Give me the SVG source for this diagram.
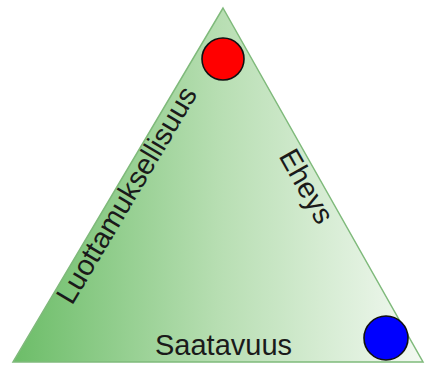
<svg xmlns="http://www.w3.org/2000/svg" width="425" height="365" viewBox="0 0 425 365">
<style>
.lbl{font-family:"Liberation Sans",Arial,sans-serif;font-size:29px;fill:#1a1a1a;text-anchor:middle}
.dot{stroke:#111;stroke-width:1.6}
</style>
<defs>
<linearGradient id="g" x1="13" y1="0" x2="423" y2="0" gradientUnits="userSpaceOnUse">
<stop offset="0" stop-color="#6cbd68"/>
<stop offset="0.5" stop-color="#b7deb2"/>
<stop offset="1" stop-color="#f3f9f2"/>
</linearGradient>
</defs>
<g id="triangle">
<polygon points="223,8 423,362 13,362" fill="url(#g)" stroke="#7fba7b" stroke-width="1.5"/>
</g>
<g id="luottamuksellisuus">
<text class="lbl" transform="translate(135,200) rotate(-59.3)">Luottamuksellisuus</text>
</g>
<g id="eheys">
<text class="lbl" transform="translate(298,191) rotate(60.5)">Eheys</text>
</g>
<g id="saatavuus">
<text class="lbl" x="223.5" y="355">Saatavuus</text>
</g>
<g id="red">
<circle class="dot" cx="223" cy="59" r="21" fill="#ff0000"/>
</g>
<g id="blue">
<circle class="dot" cx="386" cy="338" r="22" fill="#0000ff"/>
</g>
</svg>
